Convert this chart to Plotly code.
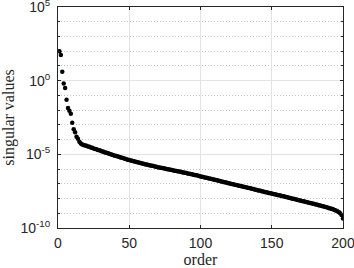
import plotly.graph_objects as go

# order index of singular values
order = list(range(1, 201))

# log10 of singular values
log10_sv = [
    2.00, 1.75, 0.60, -0.20, -0.50, -1.30, -1.85, -2.05, -2.25, -2.85,
    -3.30, -3.50, -3.80, -3.95, -4.15, -4.26, -4.33, -4.37, -4.40, -4.42,
    -4.46, -4.49, -4.53, -4.56, -4.60, -4.63, -4.66, -4.70, -4.73, -4.76,
    -4.80, -4.83, -4.87, -4.90, -4.93, -4.96, -5.00, -5.03, -5.06, -5.09,
    -5.12, -5.15, -5.18, -5.21, -5.24, -5.27, -5.30, -5.33, -5.36, -5.39,
    -5.42, -5.44, -5.47, -5.49, -5.52, -5.54, -5.57, -5.59, -5.62, -5.64,
    -5.67, -5.69, -5.71, -5.74, -5.76, -5.78, -5.80, -5.83, -5.85, -5.87,
    -5.89, -5.91, -5.93, -5.95, -5.97, -5.99, -6.01, -6.03, -6.05, -6.07,
    -6.09, -6.11, -6.13, -6.15, -6.17, -6.19, -6.21, -6.23, -6.25, -6.27,
    -6.30, -6.32, -6.34, -6.36, -6.38, -6.40, -6.42, -6.44, -6.47, -6.50,
    -6.52, -6.54, -6.57, -6.59, -6.61, -6.64, -6.66, -6.68, -6.71, -6.73,
    -6.75, -6.78, -6.80, -6.82, -6.85, -6.87, -6.89, -6.92, -6.94, -6.96,
    -6.99, -7.01, -7.03, -7.06, -7.08, -7.10, -7.13, -7.15, -7.17, -7.20,
    -7.22, -7.24, -7.27, -7.29, -7.31, -7.34, -7.36, -7.38, -7.41, -7.43,
    -7.45, -7.48, -7.50, -7.52, -7.55, -7.57, -7.59, -7.62, -7.64, -7.66,
    -7.69, -7.71, -7.73, -7.76, -7.78, -7.80, -7.83, -7.85, -7.87, -7.90,
    -7.92, -7.94, -7.97, -7.99, -8.01, -8.04, -8.06, -8.08, -8.11, -8.13,
    -8.16, -8.18, -8.20, -8.23, -8.25, -8.28, -8.30, -8.32, -8.35, -8.37,
    -8.40, -8.42, -8.45, -8.47, -8.50, -8.52, -8.55, -8.58, -8.61, -8.64,
    -8.67, -8.70, -8.73, -8.77, -8.81, -8.86, -8.92, -9.00, -9.12, -9.35,
]
singular_values = [10 ** e for e in log10_sv]

x_ticks = [0, 50, 100, 150, 200]
y_major = [1e-10, 1e-5, 1e0, 1e5]
y_major_text = ["10<sup>-10</sup>", "10<sup>-5</sup>", "10<sup>0</sup>", "10<sup>5</sup>"]
y_minor = [10.0 ** k for k in range(-10, 6)]

fig = go.Figure()
fig.add_trace(go.Scatter(
    x=order, y=singular_values, mode="markers",
    marker=dict(color="black", size=4.5, line=dict(width=0)),
    showlegend=False,
))

axis_common = dict(
    showline=True, linecolor="#262626", linewidth=1, mirror="ticks",
    ticks="inside", ticklen=3, tickcolor="#262626",
    gridcolor="#e3e3e3", gridwidth=1, zeroline=False,
    automargin=False, ticklabeloverflow="allow",
    tickfont=dict(family="Liberation Sans, Arial, sans-serif", size=14, color="#262626"),
)
title_font = dict(family="Liberation Serif, Times New Roman, serif", size=16, color="#262626")

fig.update_layout(
    width=354, height=268,
    margin=dict(l=58, r=11, t=7, b=40),
    paper_bgcolor="white", plot_bgcolor="white",
    xaxis=dict(
        range=[0, 200], tickvals=x_ticks, ticklabelstandoff=2,
        title=dict(text="order", standoff=2, font=title_font),
        **axis_common,
    ),
    yaxis=dict(
        type="log", range=[-10, 5], tickvals=y_major, ticktext=y_major_text,
        ticklabelstandoff=4,
        title=dict(text="singular values", standoff=4, font=title_font),
        minor=dict(tickvals=y_minor, ticks="inside", ticklen=2, tickcolor="#262626",
                   showgrid=True, griddash="1px,2px", gridcolor="#c4c4c4", gridwidth=1),
        **axis_common,
    ),
)

fig.write_html("out.html", config={"displayModeBar": False},
               post_script="document.body.style.margin='0';")
